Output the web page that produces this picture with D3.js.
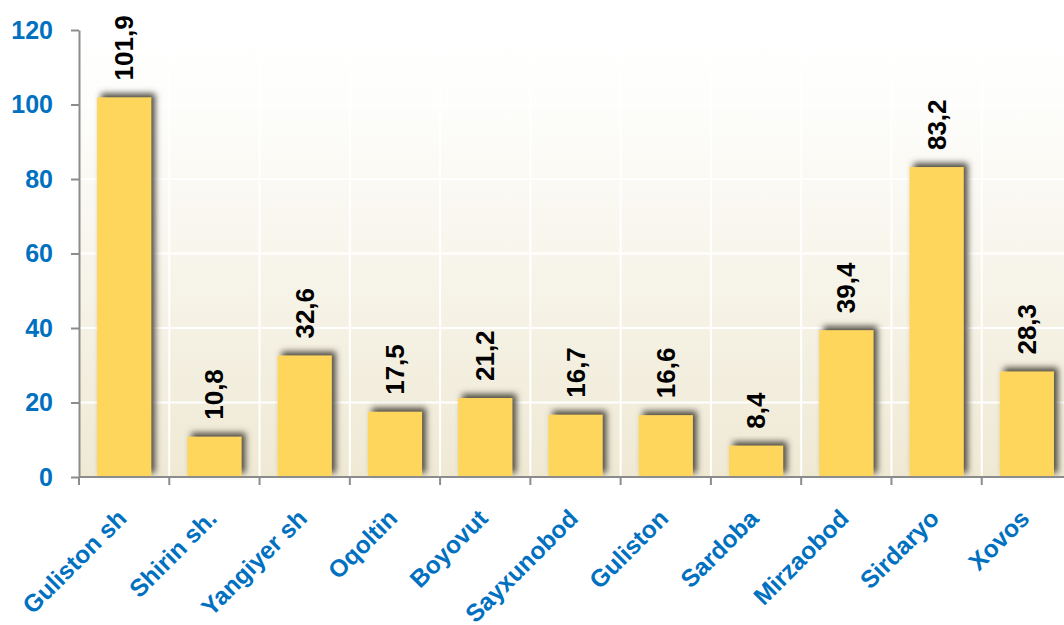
<!DOCTYPE html>
<html>
<head>
<meta charset="utf-8">
<script src="https://cdn.jsdelivr.net/npm/d3@7"></script>
<style>
  body { margin: 0; background: #fff; }
  svg { display: block; font-family: "Liberation Sans", Arial, sans-serif; }
</style>
</head>
<body>
<svg id="chart" width="1064" height="625"></svg>
<script>
// data
var districts = ["Guliston sh", "Shirin sh.", "Yangiyer sh", "Oqoltin", "Boyovut",
  "Sayxunobod", "Guliston", "Sardoba", "Mirzaobod", "Sirdaryo", "Xovos"];
var values = [101.9, 10.8, 32.6, 17.5, 21.2, 16.7, 16.6, 8.4, 39.4, 83.2, 28.3];
var yTicks = [0, 20, 40, 60, 80, 100, 120];

var margin = { top: 30, left: 79 },
  width = 993,   // plot runs past the right edge of the window, like the original
  height = 447;

var svg = d3.select("#chart");
var defs = svg.append("defs");

var grad = defs.append("linearGradient")
  .attr("id", "bg").attr("x1", 0).attr("y1", 0).attr("x2", 0).attr("y2", 1);
grad.append("stop").attr("offset", "0%").attr("stop-color", "#ffffff");
grad.append("stop").attr("offset", "18%").attr("stop-color", "#fdfdfb");
grad.append("stop").attr("offset", "100%").attr("stop-color", "#efe9d4");

var shadow = defs.append("filter").attr("id", "shadow")
  .attr("x", "-30%").attr("y", "-30%").attr("width", "160%").attr("height", "160%");
shadow.append("feGaussianBlur").attr("in", "SourceAlpha").attr("stdDeviation", 3.2).attr("result", "b");
shadow.append("feOffset").attr("in", "b").attr("dx", 4).attr("dy", -4).attr("result", "o");
shadow.append("feFlood").attr("flood-color", "#4f4b40").attr("flood-opacity", 1);
shadow.append("feComposite").attr("in2", "o").attr("operator", "in").attr("result", "s");
var merge = shadow.append("feMerge");
merge.append("feMergeNode").attr("in", "s");
merge.append("feMergeNode").attr("in", "SourceGraphic");

var g = svg.append("g").attr("transform", "translate(" + margin.left + "," + margin.top + ")");

var x = d3.scaleBand().domain(districts).range([0, width]).paddingInner(0.4).paddingOuter(0.2);
var y = d3.scaleLinear().domain([0, 120]).range([height, 0]);
var step = x.step(),
  gap = (step - x.bandwidth()) / 2;

g.append("rect").attr("width", width).attr("height", height).attr("fill", "url(#bg)");

// white grid
g.append("g").selectAll("line").data(yTicks.slice(1)).join("line")
  .attr("x1", 0).attr("x2", width)
  .attr("y1", d => y(d)).attr("y2", d => y(d))
  .attr("stroke", "#fff").attr("stroke-width", 2);
g.append("g").selectAll("line").data(districts.slice(1)).join("line")
  .attr("x1", d => x(d) - gap).attr("x2", d => x(d) - gap)
  .attr("y1", 0).attr("y2", height)
  .attr("stroke", "#fff").attr("stroke-width", 2);

// bars
g.append("g").selectAll("rect").data(values).join("rect")
  .attr("x", (d, i) => x(districts[i]))
  .attr("y", d => y(d))
  .attr("width", x.bandwidth())
  .attr("height", d => y(0) - y(d))
  .attr("fill", "#ffd65c")
  .attr("filter", "url(#shadow)");

// value labels
g.append("g").selectAll("text").data(values).join("text")
  .attr("transform", (d, i) => "translate(" + (x(districts[i]) + x.bandwidth() / 2 + 9) + "," + (y(d) - 17) + ") rotate(-90)")
  .attr("font-size", 26).attr("font-weight", "bold").attr("fill", "#000")
  .text(d => d.toFixed(1).replace(".", ","));

// y axis
var yAxis = g.append("g")
  .call(d3.axisLeft(y).tickValues(yTicks).tickSize(8).tickPadding(18).tickSizeOuter(0));
yAxis.selectAll("line, path").attr("stroke", "#8c8c8c").attr("stroke-width", 2);
yAxis.selectAll("text").attr("font-size", 25).attr("font-weight", "bold")
  .attr("fill", "#0070c0").attr("font-family", "Liberation Sans, Arial, sans-serif");

// x axis: ticks at category boundaries
var xAxisG = g.append("g").attr("transform", "translate(0," + height + ")");
xAxisG.append("line").attr("x1", 0).attr("x2", width).attr("stroke", "#8c8c8c").attr("stroke-width", 2);
xAxisG.selectAll("line.tk").data(d3.range(districts.length + 1)).join("line")
  .attr("class", "tk")
  .attr("x1", i => i * step).attr("x2", i => i * step)
  .attr("y1", 0).attr("y2", 8)
  .attr("stroke", "#8c8c8c").attr("stroke-width", 2);
xAxisG.selectAll("text").data(districts).join("text")
  .attr("transform", d => "translate(" + (x(d) + x.bandwidth() / 2 + 4) + ",43) rotate(-45)")
  .attr("text-anchor", "end")
  .attr("font-size", 24.5).attr("font-weight", "bold").attr("fill", "#0070c0")
  .text(d => d);
</script>
</body>
</html>
